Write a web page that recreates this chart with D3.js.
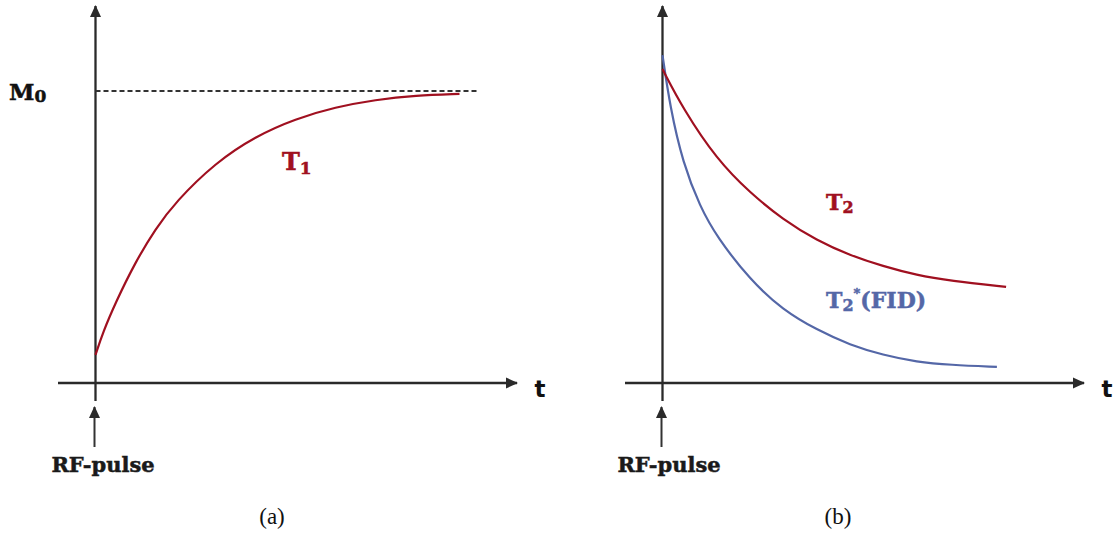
<!DOCTYPE html>
<html>
<head>
<meta charset="utf-8">
<script src="https://cdn.jsdelivr.net/npm/d3@7"></script>
<style>
  html, body { margin: 0; padding: 0; background: #fff; }
  svg { display: block; }
</style>
</head>
<body>
<svg id="chart" width="1118" height="537"></svg>
<script>
// Longitudinal recovery (T1) after the RF pulse, in units of M0
const recoveryTime = [0, 0.19, 0.5, 1, 1.5, 2, 3, 4, 5, 6, 7, 8, 9.1];
const recoveryMz   = [0.096, 0.175, 0.275, 0.415, 0.528, 0.62, 0.755, 0.845, 0.905, 0.945, 0.97, 0.985, 0.99];

// Transverse decay: true T2 and the faster T2* free induction decay
const t2Time = [0, 0.51, 1.36, 2.19, 3.01, 3.86, 4.69, 5.51, 6.36, 7.19, 8.59];
const t2Mxy  = [1.075, 0.94, 0.765, 0.651, 0.56, 0.488, 0.437, 0.4, 0.369, 0.35, 0.329];

const fidTime = [0, 0.19, 0.51, 0.94, 1.36, 2.19, 3.01, 3.86, 4.69, 5.51, 6.36, 7.19, 8.36];
const fidMxy  = [1.123, 0.945, 0.753, 0.603, 0.5, 0.353, 0.25, 0.182, 0.13, 0.096, 0.072, 0.062, 0.055];

const panelLabels = ["(a)", "(b)"];
const m0Level = 1;
const m0DashEnd = 9.55;

const RED = "#a01020";
const BLUE = "#5467a7";
const AXIS = "#2a2a2a";
const SERIF = "'DejaVu Serif', serif";

const svg = d3.select("#chart");

const defs = svg.append("defs");
defs.append("marker")
  .attr("id", "arrowHead")
  .attr("viewBox", "0 0 12 12")
  .attr("refX", 11).attr("refY", 6)
  .attr("markerWidth", 12).attr("markerHeight", 12)
  .attr("markerUnits", "userSpaceOnUse")
  .attr("orient", "auto")
  .append("path")
  .attr("d", "M0,0.5 L12,6 L0,11.5 Z")
  .attr("fill", AXIS);

// shared vertical scale: 0 on the time axis, M0 at the dashed level
const y = d3.scaleLinear().domain([0, 1]).range([383, 91]);

const panels = [
  { originX: 95.5, axisLeft: 58, axisRight: 517, tLabelX: 540, rfLabelX: 103 },
  { originX: 662.5, axisLeft: 625, axisRight: 1084, tLabelX: 1107, rfLabelX: 669 }
];

// heavier bold serif for the annotations
function boldLabel(g, x, yPos, size, color) {
  return g.append("text")
    .attr("x", x).attr("y", yPos)
    .attr("font-family", SERIF).attr("font-weight", "bold")
    .attr("font-size", size).attr("fill", color)
    .attr("stroke", color).attr("stroke-width", 0.5);
}

panels.forEach((p, i) => {
  p.x = d3.scaleLinear().domain([0, 10]).range([p.originX, p.originX + 400]);
  const g = svg.append("g");
  p.g = g;

  // time axis
  g.append("line")
    .attr("x1", p.axisLeft).attr("x2", p.axisRight)
    .attr("y1", y(0)).attr("y2", y(0))
    .attr("stroke", AXIS).attr("stroke-width", 2.3)
    .attr("marker-end", "url(#arrowHead)");

  // magnetisation axis
  g.append("line")
    .attr("x1", p.originX).attr("x2", p.originX)
    .attr("y1", 401).attr("y2", 6)
    .attr("stroke", AXIS).attr("stroke-width", 2.3)
    .attr("marker-end", "url(#arrowHead)");

  g.append("text")
    .attr("x", p.tLabelX).attr("y", 397)
    .attr("text-anchor", "middle")
    .attr("font-family", "'DejaVu Sans', sans-serif")
    .attr("font-weight", "bold").attr("font-size", 23)
    .attr("fill", "#111")
    .text("t");

  // RF pulse arrow and label
  g.append("line")
    .attr("x1", p.originX - 1).attr("x2", p.originX - 1)
    .attr("y1", 447).attr("y2", 407)
    .attr("stroke", "#333").attr("stroke-width", 2)
    .attr("marker-end", "url(#arrowHead)");

  boldLabel(g, p.rfLabelX, 472, 21, "#1a1a1a")
    .attr("text-anchor", "middle")
    .text("RF-pulse");

  g.append("text")
    .attr("x", p.rfLabelX + 169).attr("y", 524)
    .attr("text-anchor", "middle")
    .attr("font-family", "'Liberation Serif', serif")
    .attr("font-size", 23)
    .attr("fill", "#111")
    .text(panelLabels[i]);
});

const line = (xs) => d3.line()
  .x(d => xs(d[0]))
  .y(d => y(d[1]))
  .curve(d3.curveBasis);

// ---- panel (a): T1 recovery ----
const pa = panels[0];
pa.g.append("line")
  .attr("x1", pa.x(0)).attr("x2", pa.x(m0DashEnd))
  .attr("y1", y(m0Level)).attr("y2", y(m0Level))
  .attr("stroke", "#333").attr("stroke-width", 2)
  .attr("stroke-dasharray", "5,3");

pa.g.append("path")
  .datum(d3.zip(recoveryTime, recoveryMz))
  .attr("d", line(pa.x))
  .attr("fill", "none").attr("stroke", RED).attr("stroke-width", 2.2);

const m0 = boldLabel(pa.g, 9, 100, 23, "#111");
m0.append("tspan").text("M");
m0.append("tspan").attr("font-size", 17).attr("dy", 2).text("0");

const t1 = boldLabel(pa.g, 282, 170, 24, RED);
t1.append("tspan").text("T");
t1.append("tspan").attr("font-size", 17).attr("dy", 4).text("1");

// ---- panel (b): T2 and T2* decay ----
const pb = panels[1];
pb.g.append("path")
  .datum(d3.zip(fidTime, fidMxy))
  .attr("d", line(pb.x))
  .attr("fill", "none").attr("stroke", BLUE).attr("stroke-width", 2.2);

pb.g.append("path")
  .datum(d3.zip(t2Time, t2Mxy))
  .attr("d", line(pb.x))
  .attr("fill", "none").attr("stroke", RED).attr("stroke-width", 2.2);

const t2 = boldLabel(pb.g, 826, 210, 22, RED);
t2.append("tspan").text("T");
t2.append("tspan").attr("font-size", 16).attr("dy", 3).text("2");

const t2s = boldLabel(pb.g, 826, 308, 22, BLUE);
t2s.append("tspan").text("T");
t2s.append("tspan").attr("font-size", 16).attr("dy", 3).text("2");
t2s.append("tspan").attr("font-size", 13).attr("dy", -13).text("*");
t2s.append("tspan").attr("dy", 10).attr("font-size", 22).text("(FID)");
</script>
</body>
</html>
